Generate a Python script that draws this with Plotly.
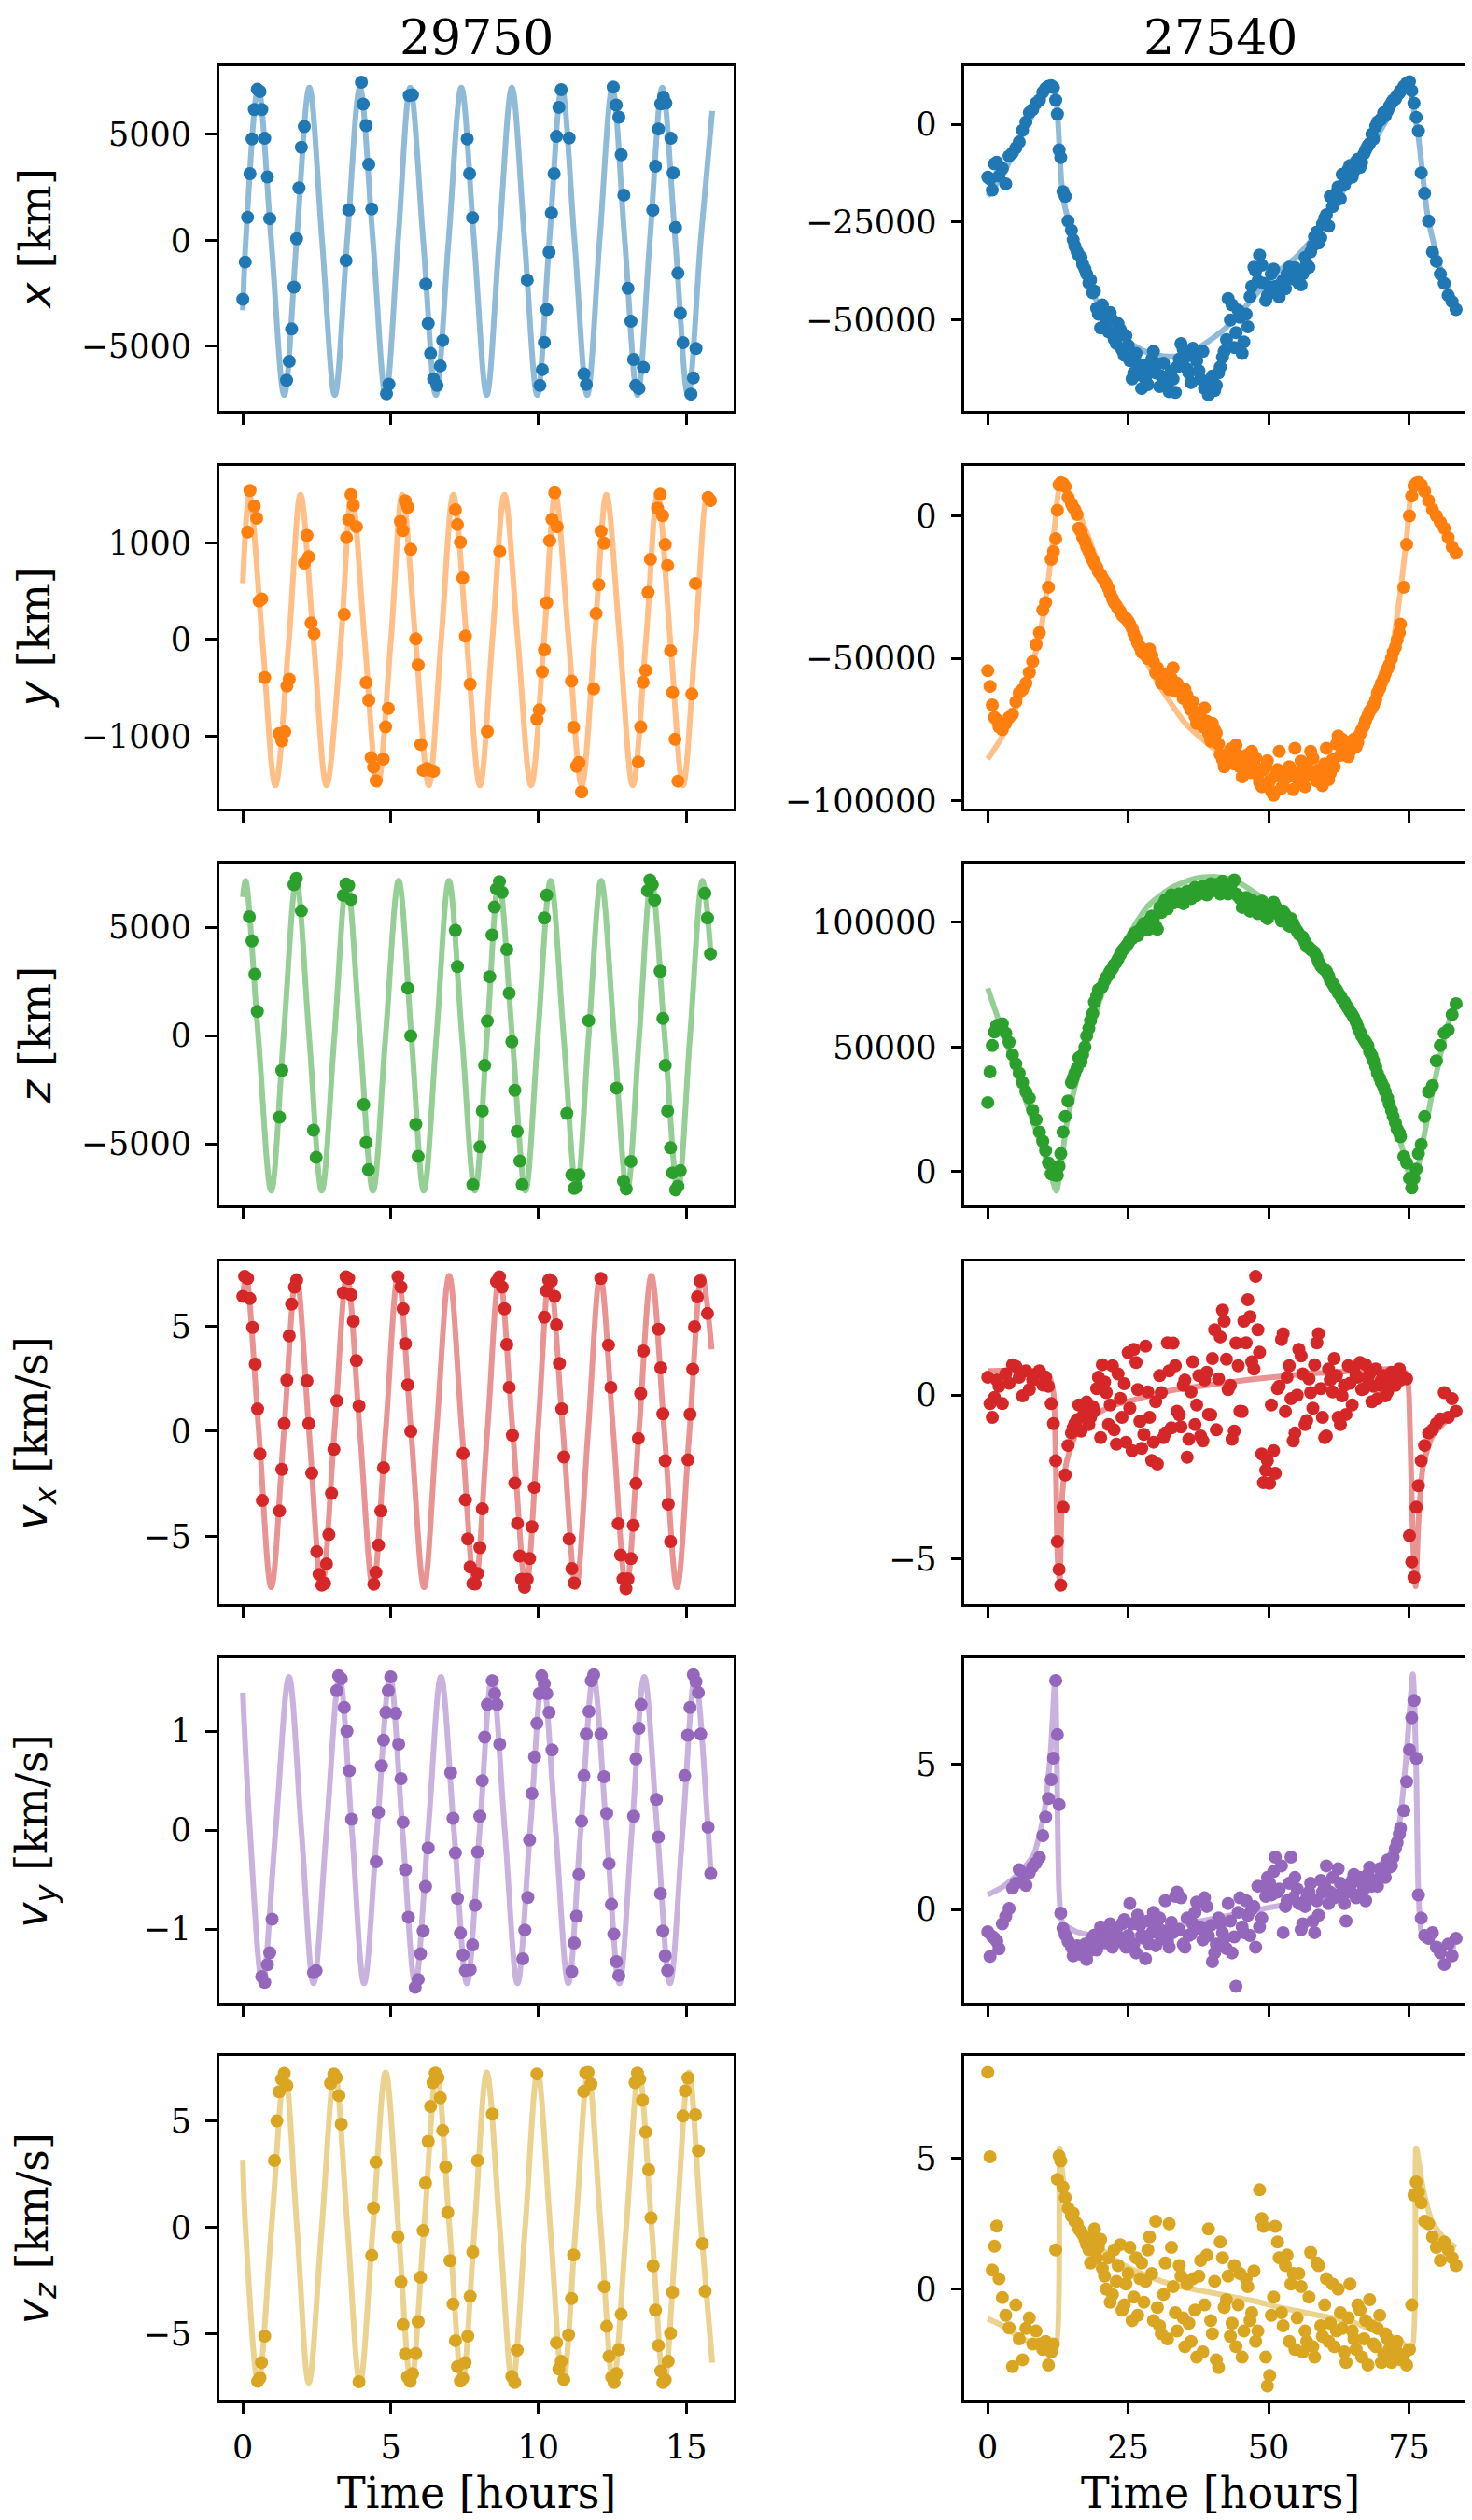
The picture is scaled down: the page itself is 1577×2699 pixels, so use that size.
import plotly.graph_objects as go
from plotly.subplots import make_subplots

# ---------------- satellite 29750 (left column) ----------------
t_x_29750 = [0.00, 0.08, 0.16, 0.24, 0.31, 0.39, 0.49, 0.58, 0.64, 0.74,
             0.83, 0.91, 1.48, 1.57, 1.65, 1.73, 1.82, 1.90, 1.98, 2.08,
             3.49, 3.58, 4.01, 4.07, 4.17, 4.26, 4.36, 4.86, 4.94, 5.63,
             5.74, 6.19, 6.27, 6.35, 6.45, 6.57, 6.68, 6.76, 7.59, 7.67,
             7.77, 9.62, 10.05, 10.13, 10.20, 10.28, 10.36, 10.44, 10.53, 10.61,
             10.69, 10.77, 11.04, 11.54, 11.62, 12.53, 12.63, 12.72, 12.80, 12.89,
             13.03, 13.13, 13.22, 13.29, 13.40, 13.55, 13.87, 13.96, 14.06, 14.14,
             14.23, 14.31, 14.48, 14.56, 14.64, 14.72, 14.80, 14.89, 15.16, 15.24,
             15.33]
x_29750 = [-2778, -1023, 1082, 3143, 4781, 6170, 7120, 7018, 6170, 4810,
           2983, 1023, -6594, -5702, -4181, -2208, 73, 2471, 4386, 5366,
           -950, 1433, 7456, 6418, 5409, 3582, 1477, -7237, -6784, 6828,
           6857, -2061, -3918, -5336, -6535, -6842, -5921, -4722, 4781, 3143,
           1067, -1871, -6842, -6097, -4810, -3260, -556, 1287, 3143, 4898,
           6272, 7106, 4825, -6301, -6798, 7222, 6374, 5804, 4035, 2135,
           -2266, -3816, -5614, -6842, -6988, -5994, 1418, 3494, 5249, 6433,
           6754, 6462, 4810, 3173, 599, -1550, -3436, -4825, -7252, -6491,
           -5102]

t_y_29750 = [0.16, 0.24, 0.39, 0.47, 0.55, 0.64, 0.74, 1.23, 1.32, 1.42,
             1.49, 1.57, 2.08, 2.17, 2.23, 2.31, 2.41, 3.43, 3.51, 3.58,
             3.66, 3.74, 3.84, 4.17, 4.26, 4.34, 4.42, 4.51, 4.75, 4.83,
             4.92, 5.33, 5.41, 5.49, 5.58, 5.68, 5.85, 5.93, 6.02, 6.10,
             6.23, 6.35, 6.45, 7.19, 7.26, 7.36, 7.44, 7.53, 7.69, 8.27,
             8.69, 9.95, 10.03, 10.13, 10.20, 10.28, 10.38, 10.46, 10.55, 10.63,
             11.12, 11.19, 11.29, 11.37, 11.46, 11.87, 11.95, 12.04, 12.12, 12.22,
             13.38, 13.46, 13.54, 13.63, 13.71, 13.79, 14.03, 14.12, 14.20, 14.29,
             14.37, 14.47, 14.54, 14.62, 14.72, 15.19, 15.31, 15.74, 15.82]
y_29750 = [1112, 1542, 1381, 1256, 397, 420, -394, -974, -1048, -955,
           -481, -410, 792, 1077, 856, 170, 61, 260, 1054, 1240,
           1500, 1391, 1167, -445, -628, -1221, -1320, -1461, -1237, -904,
           -712, 1221, 1128, 1436, 1369, 933, 6, -263, -1086, -1353,
           -1336, -1353, -1362, 1343, 1189, 1006, 638, 35, -462, -952,
           910, -824, -728, -333, -106, 381, 1022, 1244, 1519, 1167,
           -429, -907, -1311, -1272, -1577, -510, 269, 567, 1119, 997,
           -1269, -904, -442, -320, 487, 830, 1359, 1503, 1282, 984,
           766, -115, -548, -1032, -1465, -564, 580, 1471, 1439]

t_z_29750 = [0.22, 0.31, 0.41, 0.49, 1.24, 1.32, 1.73, 1.81, 1.98, 2.39,
             2.48, 3.40, 3.49, 3.58, 3.66, 4.09, 4.17, 4.25, 5.58, 5.68,
             5.85, 5.93, 7.19, 7.26, 7.78, 8.02, 8.10, 8.18, 8.27, 8.35,
             8.43, 8.51, 8.58, 8.68, 8.77, 8.93, 9.01, 9.10, 9.20, 9.28,
             9.37, 9.45, 10.20, 10.28, 10.96, 11.13, 11.21, 11.29, 11.37, 11.70,
             12.64, 12.88, 12.97, 13.13, 13.69, 13.77, 13.85, 13.93, 14.12, 14.21,
             14.29, 14.37, 14.47, 14.54, 14.64, 14.72, 14.80, 15.63, 15.72, 15.82]
z_29750 = [5486, 4371, 2829, 1114, -3771, -1614, 6971, 7257, 5757, -4371,
           -5629, 6471, 7000, 6929, 6286, -3186, -4943, -6200, 2186, -14,
           -4100, -5586, 4857, 3186, -6886, -5143, -3486, -1371, 671, 2714,
           4643, 5929, 6771, 7114, 6614, 3971, 1957, -286, -2529, -4429,
           -5800, -6886, 5429, 6486, -3600, -6429, -7057, -6986, -6429, 686,
           -2429, -6729, -7086, -5814, 6686, 7186, 6971, 6257, 2971, 786,
           -1371, -3486, -5186, -6343, -7129, -6957, -6243, 6571, 5429, 3771]

t_vx_29750 = [0.00, 0.06, 0.16, 0.24, 0.33, 0.42, 0.50, 0.58, 0.66, 1.24,
              1.32, 1.40, 1.49, 1.57, 1.65, 1.75, 1.82, 2.17, 2.23, 2.33,
              2.50, 2.58, 2.67, 2.77, 2.83, 2.91, 3.00, 3.08, 3.18, 3.40,
              3.49, 3.58, 3.66, 3.74, 3.84, 3.93, 4.43, 4.50, 4.59, 4.67,
              4.76, 5.25, 5.35, 5.42, 5.50, 5.58, 5.68, 7.45, 7.53, 7.61,
              7.69, 7.78, 7.86, 7.94, 8.02, 8.10, 8.58, 8.68, 8.77, 8.85,
              8.93, 9.01, 9.12, 9.20, 9.29, 9.37, 9.43, 9.53, 9.62, 9.70,
              9.78, 9.86, 10.20, 10.27, 10.35, 10.44, 10.55, 10.61, 10.71, 10.79,
              10.86, 11.04, 11.13, 11.21, 12.11, 12.37, 12.45, 12.70, 12.78, 12.86,
              12.96, 13.03, 13.13, 13.21, 13.30, 13.38, 13.46, 13.55, 14.06, 14.14,
              14.21, 14.29, 14.39, 14.47, 15.06, 15.13, 15.22, 15.28, 15.38, 15.47,
              15.72]
vx_29750 = [6.42, 7.37, 7.27, 6.31, 4.94, 3.20, 1.06, -1.08, -3.29, -3.79,
            -1.81, 0.37, 2.43, 4.54, 6.05, 6.86, 7.18, 2.40, 0.37, -1.99,
            -5.72, -6.80, -7.32, -7.23, -6.30, -4.91, -2.95, -0.86, 1.45, 6.59,
            7.35, 7.27, 6.49, 5.24, 3.36, 1.21, -7.27, -6.71, -5.41, -3.79,
            -1.73, 7.35, 6.86, 5.83, 4.16, 2.21, 0.00, -1.06, -3.26, -5.12,
            -6.45, -7.24, -7.26, -6.76, -5.53, -3.69, 7.12, 7.35, 6.86, 5.83,
            4.13, 2.09, -0.19, -2.46, -4.38, -5.93, -7.04, -7.42, -7.04, -6.05,
            -4.54, -2.67, 5.43, 6.68, 7.18, 7.15, 6.42, 5.06, 3.23, 1.06,
            -1.22, -5.12, -6.53, -7.21, 7.27, 4.10, 2.09, -4.40, -5.88, -7.02,
            -7.48, -7.02, -6.05, -4.47, -2.48, -0.34, 1.80, 3.82, 4.85, 3.02,
            0.83, -1.40, -3.47, -5.24, -1.36, 0.81, 2.95, 4.97, 6.39, 7.15,
            5.60]

t_vy_29750 = [0.64, 0.74, 0.83, 0.91, 0.99, 2.39, 2.48, 3.18, 3.24, 3.33,
              3.43, 3.52, 3.60, 3.68, 4.51, 4.59, 4.69, 4.76, 4.84, 4.92,
              5.00, 5.17, 5.27, 5.35, 5.42, 5.50, 5.60, 5.83, 5.93, 6.01,
              6.10, 6.18, 6.27, 7.03, 7.11, 7.19, 7.26, 7.36, 7.45, 7.53,
              7.69, 7.77, 7.86, 7.94, 8.02, 8.10, 8.18, 8.27, 8.44, 8.52,
              8.60, 8.69, 9.47, 9.54, 9.64, 9.70, 9.78, 9.87, 9.95, 10.03,
              10.11, 10.20, 10.28, 10.36, 10.46, 11.13, 11.21, 11.29, 11.37, 11.46,
              11.54, 11.62, 11.71, 11.79, 11.87, 12.11, 12.22, 12.31, 12.39, 12.47,
              12.55, 12.64, 12.72, 13.22, 13.30, 13.40, 13.47, 13.99, 14.06, 14.13,
              14.21, 14.29, 14.37, 14.95, 15.05, 15.13, 15.24, 15.33, 15.41, 15.49,
              15.74, 15.83]
vy_29750 = [-1.48, -1.54, -1.36, -1.24, -0.90, -1.44, -1.42, 1.41, 1.56, 1.53,
            1.24, 1.00, 0.60, 0.11, -0.32, 0.18, 0.65, 0.91, 1.19, 1.41,
            1.55, 1.18, 0.87, 0.52, 0.08, -0.40, -0.88, -1.59, -1.51, -1.25,
            -1.02, -0.57, -0.18, 0.58, 0.12, -0.23, -0.69, -1.04, -1.26, -1.42,
            -1.41, -1.16, -0.76, -0.22, 0.14, 0.50, 0.94, 1.27, 1.51, 1.38,
            1.27, 0.87, -1.30, -1.01, -0.68, -0.10, 0.37, 0.74, 1.08, 1.38,
            1.56, 1.48, 1.38, 1.19, 0.81, -1.43, -1.14, -0.87, -0.45, 0.09,
            0.55, 0.97, 1.20, 1.51, 1.57, 0.97, 0.54, 0.17, -0.34, -0.75,
            -1.05, -1.33, -1.47, 0.14, 0.72, 1.03, 1.27, 0.31, -0.07, -0.64,
            -1.02, -1.27, -1.42, 0.55, 0.96, 1.24, 1.57, 1.50, 1.39, 0.97,
            0.03, -0.44]

t_vz_29750 = [0.50, 0.58, 0.63, 0.74, 1.07, 1.15, 1.23, 1.31, 1.40, 1.49,
              2.97, 3.08, 3.16, 3.25, 3.33, 3.93, 4.36, 4.42, 4.50, 5.25,
              5.35, 5.42, 5.50, 5.57, 5.66, 5.74, 5.85, 5.93, 6.01, 6.10,
              6.18, 6.27, 6.35, 6.43, 6.51, 6.60, 6.68, 6.76, 6.86, 6.93,
              7.01, 7.11, 7.19, 7.26, 7.36, 7.44, 7.52, 7.61, 7.69, 7.78,
              7.94, 8.44, 9.10, 9.20, 9.28, 9.95, 10.61, 10.69, 10.77, 10.86,
              11.02, 11.12, 11.19, 11.53, 11.60, 11.68, 11.78, 12.23, 12.31, 12.39,
              12.48, 12.56, 12.64, 12.72, 12.80, 13.27, 13.35, 13.43, 13.52, 13.63,
              13.73, 13.81, 13.88, 13.96, 14.06, 14.14, 14.21, 14.29, 14.39, 14.47,
              14.54, 14.89, 14.97, 15.06, 15.31, 15.41, 15.55, 15.64]
vz_29750 = [-7.22, -7.06, -6.34, -5.10, 3.14, 5.00, 6.37, 6.96, 7.24, 6.66,
            6.77, 7.21, 7.03, 6.19, 4.85, -7.24, -1.31, 0.92, 3.07, -0.44,
            -2.56, -4.56, -5.94, -7.01, -7.22, -6.86, -5.92, -4.42, -2.34, -0.15,
            2.09, 4.04, 5.68, 6.80, 7.25, 7.03, 6.09, 4.55, 2.85, 0.70,
            -1.56, -3.59, -5.31, -6.53, -7.21, -7.08, -6.34, -5.10, -3.23, -1.15,
            3.14, 5.32, -6.99, -7.28, -5.76, 7.21, -5.41, -6.64, -6.28, -7.14,
            -5.04, -3.33, -1.29, 6.38, 7.25, 7.28, 6.73, -2.78, -4.64, -6.05,
            -7.03, -7.28, -6.86, -5.73, -4.07, 6.80, 7.25, 6.96, 5.97, 4.48,
            2.70, 0.45, -1.80, -3.88, -5.54, -6.74, -7.28, -7.15, -6.28, -4.97,
            -3.04, 5.23, 6.41, 7.02, 5.29, 3.60, -0.76, -2.99]

# fitted orbit curves (extrema and zero crossings)
tf_x_29750 = [0, 0.10, 0.52, 0.96, 1.40, 1.82, 2.25, 2.68, 3.11, 3.53, 3.96, 4.40, 4.83,
              5.25, 5.66, 6.10, 6.53, 6.96, 7.39, 7.82, 8.25, 8.67, 9.10, 9.53, 9.96,
              10.37, 10.79, 11.22, 11.65, 12.07, 12.50, 12.92, 13.35, 13.77, 14.19,
              14.63, 15.06, 15.49, 15.88]
xf_29750 = [-3300, 0, 7200, 0, -7300, 0, 7200, 0, -7300, 0, 7200, 0, -7300,
            0, 7200, 0, -7300, 0, 7200, 0, -7300, 0, 7200, 0, -7300,
            0, 7200, 0, -7300, 0, 7200, 0, -7300, 0, 7200,
            0, -7300, 0, 6100]
tf_y_29750 = [0, 0.22, 0.66, 1.10, 1.56, 1.95, 2.39, 2.83, 3.32, 3.68, 4.12, 4.56, 5.01,
              5.39, 5.84, 6.29, 6.71, 7.12, 7.57, 8.02, 8.44, 8.85, 9.30, 9.75, 10.19,
              10.57, 11.02, 11.46, 11.90, 12.30, 12.75, 13.19, 13.64, 14.03, 14.46,
              14.89, 15.31, 15.72, 15.82]
yf_29750 = [583, 1500, 0, -1510, 0, 1500, 0, -1510, 0, 1500, 0, -1510, 0,
            1500, 0, -1510, 0, 1500, 0, -1510, 0, 1500, 0, -1510, 0,
            1500, 0, -1510, 0, 1500, 0, -1510, 0, 1500, 0,
            -1510, 0, 1500, 1440]
tf_z_29750 = [0, 0.09, 0.52, 0.96, 1.38, 1.81, 2.24, 2.67, 3.10, 3.52, 3.96, 4.40, 4.83,
              5.27, 5.70, 6.12, 6.55, 6.97, 7.41, 7.85, 8.26, 8.66, 9.11, 9.56, 9.98,
              10.41, 10.85, 11.29, 11.70, 12.12, 12.56, 13.00, 13.41, 13.82, 14.27,
              14.72, 15.13, 15.55, 15.83]
zf_29750 = [6400, 7150, 0, -7170, 0, 7150, 0, -7170, 0, 7150, 0, -7170, 0,
            7150, 0, -7170, 0, 7150, 0, -7170, 0, 7150, 0, -7170, 0,
            7150, 0, -7170, 0, 7150, 0, -7170, 0, 7150, 0,
            -7170, 0, 7150, 3760]
tf_vx_29750 = [0, 0.11, 0.54, 0.96, 1.39, 1.81, 2.24, 2.67, 3.10, 3.52, 3.96, 4.40, 4.83,
               5.25, 5.69, 6.13, 6.55, 6.98, 7.41, 7.85, 8.27, 8.68, 9.13, 9.58, 9.98,
               10.38, 10.83, 11.27, 11.68, 12.09, 12.53, 12.97, 13.40, 13.82, 14.26,
               14.69, 15.11, 15.53, 15.86]
vxf_29750 = [6.4, 7.4, 0, -7.42, 0, 7.4, 0, -7.42, 0, 7.4, 0, -7.42, 0,
             7.4, 0, -7.42, 0, 7.4, 0, -7.42, 0, 7.4, 0, -7.42, 0,
             7.4, 0, -7.42, 0, 7.4, 0, -7.42, 0, 7.4, 0,
             -7.42, 0, 7.4, 3.9]
tf_vy_29750 = [0, 0.24, 0.66, 1.11, 1.56, 1.98, 2.39, 2.83, 3.27, 3.69, 4.10, 4.54, 4.98,
               5.40, 5.83, 6.27, 6.70, 7.14, 7.58, 8.01, 8.43, 8.86, 9.29, 9.72, 10.14,
               10.58, 11.01, 11.43, 11.86, 12.30, 12.74, 13.16, 13.58, 14.02, 14.45,
               14.88, 15.30, 15.74, 15.83]
vyf_29750 = [1.39, 0, -1.55, 0, 1.55, 0, -1.55, 0, 1.55, 0, -1.55, 0, 1.55,
             0, -1.55, 0, 1.55, 0, -1.55, 0, 1.55, 0, -1.55, 0, 1.55,
             0, -1.55, 0, 1.55, 0, -1.55, 0, 1.55, 0, -1.55,
             0, 1.55, 0, -0.45]
tf_vz_29750 = [0, 0.09, 0.52, 0.97, 1.42, 1.83, 2.23, 2.67, 3.11, 3.54, 3.96, 4.40, 4.83,
               5.26, 5.69, 6.13, 6.56, 6.99, 7.42, 7.84, 8.25, 8.69, 9.12, 9.55, 9.97,
               10.40, 10.83, 11.26, 11.68, 12.11, 12.53, 12.97, 13.40, 13.83, 14.25,
               14.67, 15.09, 15.50, 15.88]
vzf_29750 = [3.18, 0, -7.3, 0, 7.28, 0, -7.3, 0, 7.28, 0, -7.3, 0, 7.28,
             0, -7.3, 0, 7.28, 0, -7.3, 0, 7.28, 0, -7.3, 0, 7.28,
             0, -7.3, 0, 7.28, 0, -7.3, 0, 7.28, 0, -7.3,
             0, 7.28, 0, -6.35]

# ---------------- satellite 27540 (right column) ----------------
t_27540 = [0.0, 0.4, 0.8, 1.2, 1.6, 2.0, 2.6, 3.2, 3.8, 4.4,
           5.0, 5.6, 6.2, 6.8, 7.4, 8.0, 8.6, 9.2, 9.8, 10.3,
           10.8, 11.3, 11.7, 12.1, 12.4, 12.7, 13.0, 13.4, 13.8, 14.3,
           14.9, 15.5, 16.2, 16.9, 17.6, 18.3, 19.0, 19.7, 20.4, 21.1,
           21.8, 22.5, 23.2, 23.9, 24.6, 25.3, 26.0, 26.7, 27.4, 28.1,
           28.8, 29.5, 30.2, 30.9, 31.6, 32.3, 33.0, 33.7, 34.4, 35.1,
           35.8, 36.5, 37.2, 37.9, 38.6, 39.3, 40.0, 40.7, 41.4, 42.1,
           42.8, 43.5, 44.2, 44.9, 45.6, 46.3, 47.0, 47.7, 48.4, 49.1,
           49.8, 50.5, 51.2, 51.9, 52.6, 53.3, 54.0, 54.7, 55.4, 56.1,
           56.8, 57.5, 58.2, 58.9, 59.6, 60.3, 61.0, 61.7, 62.4, 63.1,
           63.8, 64.5, 65.2, 65.9, 66.6, 67.3, 68.0, 68.7, 69.4, 70.1,
           70.8, 71.5, 72.2, 72.9, 73.5, 74.1, 74.6, 75.1, 75.5, 75.9,
           76.3, 76.7, 77.2, 77.8, 78.5, 79.2, 79.9, 80.6, 81.3, 82.0,
           82.7, 83.4]
x_27540 = [-13500, -14000, -16800, -10100, -9700, -13200, -11300, -15200, -8100, -7300,
           -6000, -4500, -1500, 600, 3000, 3800, 5400, 6200, 8200, 9200,
           9700, 9900, 9400, 6200, 2600, -6500, -8500, -17200, -18400, -24700,
           -27100, -31100, -33400, -35800, -38200, -39800, -42600, -48500, -46100, -50100,
           -48100, -54800, -50900, -57600, -54000, -60400, -63500, -61200, -67500, -65100,
           -62800, -58000, -61200, -64300, -65900, -68300, -65100, -62000, -56000, -59600,
           -63500, -57200, -60400, -65100, -67500, -69100, -64300, -66700, -62000, -58000,
           -44500, -46100, -53200, -49300, -55600, -51700, -41400, -37400, -33400, -40600,
           -43700, -38200, -41400, -44100, -39800, -38200, -38200, -36600, -40600, -38200,
           -35800, -32600, -28700, -30300, -25500, -23100, -18400, -20000, -16000, -12800,
           -14400, -10500, -12000, -8900, -9700, -6500, -4900, -3700, 600, 1400,
           2200, 4600, 6200, 7400, 8600, 9700, 10500, 10900, 8600, 5400,
           1800, -1700, -12400, -17600, -24700, -32600, -35000, -38200, -40600, -43700,
           -45300, -47300]
y_27540 = [-54300, -59800, -66300, -70700, -71500, -74000, -75000, -72800, -70700, -69600,
           -65200, -62000, -60900, -58700, -54900, -51100, -45100, -41000, -33000, -30400,
           -25000, -15200, -12500, -8000, 2000, 10900, 11700, 11400, 10300, 6500,
           4300, 2200, -4300, -7600, -10900, -14100, -16800, -19600, -21700, -23900,
           -27200, -30400, -32600, -34800, -35900, -38000, -41300, -44600, -47800, -48900,
           -46700, -51100, -53300, -58700, -55400, -60900, -53300, -58700, -62000, -60900,
           -66300, -65200, -72800, -70700, -67400, -76100, -72800, -76100, -83700, -88000,
           -83700, -81500, -80400, -88000, -89100, -83700, -82600, -84800, -93500, -89100,
           -85900, -96700, -91300, -82600, -94600, -90200, -91300, -81500, -93500, -92400,
           -88000, -82600, -90200, -89100, -94600, -81500, -90200, -88000, -77200, -78300,
           -79400, -82600, -78300, -79400, -75000, -71700, -68500, -66300, -62000, -58700,
           -55400, -52200, -47800, -43500, -38000, -25000, -10000, 0, 7000, 10500,
           11500, 11800, 10900, 8700, 5400, 2200, 0, -2200, -4300, -7600,
           -10900, -13000]
z_27540 = [27700, 40000, 50600, 56000, 58700, 58700, 59300, 55600, 51900, 46900,
           43200, 39500, 35700, 32000, 29500, 24600, 20800, 15900, 12200, 8400,
           3500, -900, -1200, -1500, -1500, 2200, 7200, 15900, 22100, 28300,
           35700, 39500, 45700, 46900, 54400, 60600, 68000, 73000, 74200, 77900,
           80400, 82900, 85400, 88500, 90300, 92800, 95300, 94700, 97800, 99000,
           100900, 101500, 97200, 104000, 109000, 109600, 107700, 110200, 109000, 111400,
           110200, 112700, 110800, 113300, 112700, 113900, 112700, 115200, 111400, 113300,
           111400, 115800, 111400, 109600, 108300, 105900, 109000, 106500, 107700, 104000,
           101500, 105200, 106500, 102800, 104600, 100300, 101500, 97800, 95300, 94100,
           90300, 89100, 87900, 84100, 81700, 80400, 76700, 74200, 71700, 69200,
           66800, 64300, 61800, 58100, 54400, 51900, 48100, 44400, 39500, 35700,
           32000, 27100, 22100, 17100, 14000, 6000, 3500, -2700, -6500, -2700,
           1000, 7200, 10900, 22100, 32000, 34500, 44400, 50600, 55600, 56800,
           63000, 67400]
vx_27540 = [0.55, -0.26, -0.68, -0.07, 0.46, 0.27, -0.26, 0.65, 0.36, 0.93,
            0.88, 0.55, -0.02, 0.74, 0.17, 0.46, 0.65, 0.74, 0.31, 0.55,
            0.27, -0.26, -0.87, -2.01, -4.48, -5.33, -5.81, -3.43, -2.44, -1.54,
            -1.16, -0.87, -0.30, -0.64, -0.21, -0.68, -0.49, 0.55, 0.93, 0.08,
            -0.30, -1.06, 0.65, -0.68, -1.44, -0.40, 1.40, 0.17, -1.63, 1.50,
            -0.68, -1.44, -2.11, 0.08, -1.16, 0.74, 1.59, -0.49, -0.97, 0.46,
            -1.35, 1.02, -0.30, -1.25, 0.46, -0.59, 1.12, -1.06, 1.78, 2.26,
            0.17, -1.35, 1.59, -0.49, 2.26, 2.92, 1.02, 3.63, 1.31, -2.68,
            -2.01, -0.30, -2.39, 0.27, 1.88, 0.55, -0.11, -1.16, 1.40, 0.65,
            -0.78, 0.08, 0.93, 1.88, -0.68, -1.25, 0.46, 1.12, -0.68, -0.02,
            -0.59, 0.36, 0.83, 0.55, 0.17, 0.93, 0.65, 0.27, -0.11, 0.46,
            -0.02, 0.27, 0.55, 0.69, 0.46, 0.55, 0.50, -4.30, -5.10, -5.57,
            -3.43, -2.77, -2.01, -1.54, -1.16, -1.06, -0.87, -0.73, 0.08, -0.68,
            -0.11, -0.49]
vy_27540 = [-0.77, -1.62, -0.93, -1.00, -1.10, -1.36, -0.50, -0.24, 0.03, 0.73,
            0.90, 1.37, 1.00, 0.83, 1.26, 1.47, 1.60, 1.79, 2.54, 3.18,
            3.82, 4.47, 5.21, 7.88, 6.02, 3.61, -0.13, -0.66, -0.88, -1.10,
            -1.30, -1.41, -1.35, -1.50, -1.73, -1.10, -0.88, -1.20, -0.70, -1.00,
            -0.50, -1.00, -0.95, -0.50, -1.30, 0.20, -1.20, -0.20, -0.90, -1.70,
            -1.20, -0.10, -0.60, -1.00, 0.30, -1.30, -0.80, 0.60, 0.40, -1.30,
            -0.90, -0.50, 0.25, -0.60, 0.40, -0.90, -1.80, -1.20, -0.50, -1.00,
            0.20, -1.50, -2.65, 0.40, -0.80, -0.20, 0.00, -1.30, -0.60, 0.80,
            1.10, 0.50, 1.80, 0.70, -0.80, 0.30, 1.80, 1.10, 0.20, -0.50,
            0.40, 0.90, -0.80, -0.20, 0.60, 1.50, 0.60, 0.40, 1.40, 0.50,
            -0.40, 0.80, 1.20, 0.50, 0.90, 0.30, 1.45, 0.90, 0.80, 1.30,
            1.10, 1.45, 1.80, 2.30, 2.80, 3.40, 4.40, 5.50, 6.60, 7.20,
            5.20, 0.50, -0.30, -0.90, -1.00, -0.80, -1.30, -1.50, -1.90, -1.20,
            -1.60, -1.00]
vz_27540 = [8.29, 5.06, 0.73, 1.64, 2.41, 0.40, -0.32, -1.00, -1.48, -2.96,
            -0.60, -1.90, -2.70, -1.50, -1.10, -2.10, -1.60, -2.10, -2.30, -2.00,
            -2.90, -2.40, -2.10, 1.50, 4.20, 5.10, 4.90, 3.90, 3.50, 3.10,
            2.80, 2.60, 2.30, 2.10, 1.70, 1.00, 2.30, 1.60, 0.80, 0.00,
            -0.50, 1.50, 0.90, -0.80, 0.20, 1.60, -0.30, -1.00, 1.00, 0.30,
            2.00, -1.20, -0.70, -1.70, 1.00, 2.50, 0.10, -1.60, 0.50, -2.20,
            -1.30, 0.40, -2.60, 1.10, -0.60, 2.30, -1.70, -2.70, 1.80, -0.70,
            0.50, -1.30, -2.20, 0.60, -1.60, 0.10, -0.90, -2.00, 3.80, 2.40,
            -3.70, -1.00, 2.40, 1.20, -1.40, 1.30, 0.20, -2.30, 0.60, -2.40,
            -2.00, 1.40, -2.60, 0.90, -1.80, 0.40, -1.30, -2.20, 0.00, -1.50,
            -2.80, 0.20, -1.90, -0.60, -2.60, -1.20, -0.40, -2.10, -1.50, -2.80,
            -1.70, -2.30, -2.60, -2.00, -2.70, -2.50, -2.90, -2.30, -0.60, 3.60,
            4.10, 3.70, 3.30, 2.60, 2.50, 2.00, 1.60, 1.10, 1.80, 1.50,
            1.20, 0.90]

# second batch of 27540 observations (the dense middle of the orbit)
t2_27540 = [15.2, 15.9, 16.6, 17.3, 18.0, 18.7, 19.4, 20.1, 20.8, 21.5,
            22.2, 22.9, 23.6, 24.3, 25.0, 25.7, 26.4, 27.1, 27.8, 28.5,
            29.2, 29.9, 30.6, 31.3, 32.0, 32.7, 33.4, 34.1, 34.8, 35.5,
            36.2, 36.9, 37.6, 38.3, 39.0, 39.7, 40.4, 41.1, 41.8, 42.5,
            43.2, 43.9, 44.6, 45.3, 46.0, 46.7, 47.4, 48.1, 48.8, 49.5,
            50.2, 50.9, 51.6, 52.3, 53.0, 53.7, 54.4, 55.1, 55.8, 56.5,
            57.2, 57.9, 58.6, 59.3, 60.0, 60.7, 61.4, 62.1, 62.8, 63.5,
            64.2, 64.9, 65.6, 66.3, 67.0, 67.7, 68.4, 69.1, 69.8, 70.5,
            71.2, 71.9, 72.6, 73.3]
x2_27540 = [-29500, -32500, -34000, -37000, -40500, -43000, -47000, -52000, -49000, -53000,
            -50000, -56000, -52500, -59000, -56500, -65000, -58500, -64000, -61500, -66500,
            -60000, -63500, -67000, -61000, -66500, -63000, -68500, -60000, -57500, -62500,
            -66000, -59000, -63000, -58000, -66000, -67000, -68000, -63500, -59500, -55000,
            -50000, -57000, -47500, -58500, -48500, -44000, -36500, -40000, -36000, -45000,
            -41500, -37000, -43000, -40500, -42000, -36500, -39500, -37500, -41000, -34000,
            -36500, -31000, -27500, -29000, -24000, -26000, -21000, -17500, -19000, -15500,
            -11500, -13500, -9500, -11000, -7500, -5500, -2500, -500, 1000, 3000,
            3500, 5500, 6500, 8000]
y2_27540 = [3000, 500, -5500, -9000, -12500, -15500, -18000, -20500, -23000, -25500,
            -29000, -31500, -33500, -35500, -37000, -39500, -43000, -46000, -47000, -50000,
            -49000, -55000, -56000, -57500, -59500, -57000, -61500, -60000, -64000, -63000,
            -68000, -70500, -69000, -74000, -72000, -79000, -75000, -80000, -85500, -86000,
            -82000, -87000, -84000, -91500, -86000, -90000, -87500, -91000, -95000, -88000,
            -93000, -98000, -89000, -95500, -92000, -88000, -96000, -90000, -86000, -95000,
            -91000, -85000, -93000, -91500, -87000, -92500, -85500, -80000, -84000, -80500,
            -84500, -79000, -81000, -76500, -73500, -70000, -67500, -64500, -60500, -57000,
            -53500, -50000, -46000, -41000]
z2_27540 = [37500, 41500, 44000, 50000, 57500, 63500, 70500, 73500, 76500, 79000,
            81500, 84000, 87000, 89500, 91500, 93500, 96000, 96500, 99500, 97000,
            102500, 98500, 106000, 107500, 105500, 111000, 108500, 111500, 107500, 112500,
            109500, 114000, 111500, 114500, 111000, 115500, 113500, 114000, 116500, 112000,
            113500, 117000, 110500, 106000, 110000, 104500, 107500, 103500, 108500, 102500,
            103500, 108000, 104000, 100500, 103000, 98500, 99500, 96500, 94500, 92000,
            90000, 88500, 86000, 82500, 81000, 78500, 75500, 73000, 70500, 68000,
            65500, 63000, 60000, 56000, 53000, 50500, 46500, 42000, 37500, 34000,
            29500, 24500, 19500, 15500]
vx2_27540 = [-1.0, -0.75, -1.1, -0.45, -0.9, -0.35, 0.2, -1.3, 0.4, -0.9,
             0.9, -1.5, -0.1, 0.35, 1.3, -1.7, 1.0, -0.8, -1.2, 0.1,
             -2.0, -0.2, 0.6, -1.3, 1.6, -1.0, 0.9, -0.6, 0.3, -1.9,
             0.1, -0.9, 0.6, -1.4, 0.7, -0.6, 2.0, 0.5, 2.6, 1.1,
             0.3, -1.1, 0.9, -0.5, 1.6, 2.4, 0.8, 2.0, -1.8, -2.3,
             -2.7, -1.7, 0.2, 1.7, -0.5, 0.9, -1.4, 0.0, 1.2, -0.9,
             0.5, -0.4, 1.6, 0.2, -1.3, 0.8, 0.1, 0.6, -0.9, 0.3,
             0.9, -0.3, 0.6, 1.0, 0.2, 0.5, -0.2, 0.8, 0.3, 0.6,
             0.1, 0.7, 0.3, 0.8]
vy2_27540 = [-1.6, -1.25, -1.55, -1.2, -1.45, -0.95, -1.4, -0.6, -1.15, -0.8,
             -1.3, -0.7, -1.1, -0.35, -0.9, -0.5, -1.5, -0.55, -1.0, -0.4,
             -0.8, -1.25, -0.3, -0.75, -1.1, -0.45, 0.45, -0.7, -1.2, -0.3,
             -0.85, -0.1, -0.65, -1.05, 0.1, -0.55, -1.5, -0.3, -0.8, -1.35,
             -0.4, -0.95, -0.1, -0.6, 0.3, -0.9, 0.1, 0.8, -0.3, 0.45,
             0.9, 1.3, 0.6, 1.5, 0.1, 0.9, 0.4, 0.7, -0.7, 0.1,
             0.6, -0.4, 0.3, 1.0, 0.8, 0.2, 1.1, 0.5, 0.9, 0.2,
             0.6, 1.0, 0.4, 1.1, 0.7, 1.2, 0.8, 1.0, 1.4, 1.2,
             1.7, 1.5, 2.1, 2.6]
vz2_27540 = [2.9, 2.5, 2.2, 1.9, 1.5, 2.0, 1.2, 1.9, 0.5, 1.2,
             -0.2, 0.3, 1.7, -0.6, 0.6, -1.2, 1.2, 0.4, -0.5, 1.5,
             0.6, 2.6, -1.4, -0.2, -1.9, 1.6, -0.9, 0.9, -1.1, 0.2,
             -2.0, -0.8, 0.5, -2.4, 1.3, -1.2, 0.3, -3.0, 1.2, -0.4,
             -1.8, 0.9, -0.6, -2.6, 0.4, -1.2, 0.7, -1.6, 2.7, -2.6,
             -3.3, -0.3, 1.8, -0.9, 0.9, -2.0, 0.6, -1.1, 0.1, -1.6,
             -0.3, -2.2, 1.0, -1.4, -0.6, -2.0, 0.2, -1.6, -0.9, -2.4,
             -1.1, -1.6, -2.3, -0.8, -1.9, -2.9, -1.4, -2.2, -1.0, -2.5,
             -1.9, -2.8, -2.2, -2.5]

# fitted orbit curves for 27540
tf_x_27540 = [0, 3, 6, 9, 11.3, 11.8, 12.4, 13.3, 14.8, 17.5, 20.9, 25.1, 29.3, 33.6, 37.8,
              42.0, 46.2, 50.5, 54.7, 58.1, 62.3, 66.5, 70.8, 74.1, 75.0, 75.7, 76.7, 78.4,
              80.9, 83.4]
xf_27540 = [-18400, -12000, -3000, 5000, 9800, 9300, 3000, -17600, -27100, -39000, -49300,
            -55600, -58800, -59200, -56800, -52500, -46100, -39000, -34200, -28700, -19200,
            -9700, 600, 9400, 11300, 5400, -3300, -23900, -38200, -46100]
tf_y_27540 = [0, 2.3, 5.7, 9.0, 10.7, 12.0, 12.8, 13.3, 15.8, 19.2, 22.6, 26.8, 31.0, 35.2,
              39.5, 43.7, 47.9, 52.2, 56.4, 60.6, 64.8, 69.1, 71.6, 73.3, 74.6, 75.4, 76.4,
              78.4, 80.9, 83.4]
yf_27540 = [-85300, -78300, -64100, -44600, -23900, -2200, 10900, 11400, 3300, -14100,
            -29300, -45700, -60900, -72800, -80400, -85900, -88000, -89100, -88000, -85900,
            -79400, -64100, -51100, -29300, -7600, 7600, 11400, 6500, -4300, -15200]
tf_z_27540 = [0, 4, 8, 11, 12.2, 14.1, 16.7, 20.0, 24.3, 28.5, 32.7, 36.9, 40.3, 43.7, 47.9,
              52.2, 56.4, 60.6, 64.8, 69.1, 71.6, 74.1, 75.8, 77.1, 79.2, 81.7, 83.4]
zf_27540 = [73600, 47000, 20300, 1000, -7700, 19600, 44400, 69200, 91600, 106500, 113900,
            117600, 118300, 117000, 111400, 104000, 91600, 79200, 61800, 41900, 25800, 7200,
            -6500, 7200, 32000, 56800, 69200]
tf_vx_27540 = [0, 2.3, 10.7, 11.7, 12.1, 12.4, 12.8, 13.3, 14.1, 15.8, 19.2, 22.6, 26.8,
               31.0, 35.2, 39.5, 43.7, 47.9, 52.2, 56.4, 60.6, 64.8, 69.1, 73.3, 74.6, 75.2,
               75.7, 76.2, 76.7, 77.5, 79.2, 81.7, 83.4]
vxf_27540 = [0.74, 0.75, 0.65, 0.08, -2.0, -4.86, -5.8, -2.96, -2.0, -1.16, -0.59, -0.30,
             -0.11, 0.08, 0.22, 0.31, 0.41, 0.50, 0.57, 0.65, 0.69, 0.74, 0.79, 0.79, 0.65,
             -1.06, -4.38, -5.85, -3.91, -2.2, -1.25, -0.78, -0.59]
tf_vy_27540 = [0, 2.3, 5.7, 8.2, 9.9, 11.2, 12.0, 12.7, 13.3, 15.8, 22.6, 26.8, 31.0, 35.2,
               39.5, 43.7, 47.9, 52.2, 56.4, 60.6, 64.8, 68.2, 71.6, 73.3, 74.6, 75.7, 76.3,
               76.7, 77.5, 80.1, 83.4]
vyf_27540 = [0.51, 0.73, 1.26, 1.90, 3.18, 5.43, 8.0, 0.62, -0.45, -0.77, -0.98, -0.88,
             -0.66, -0.50, -0.34, -0.18, -0.02, 0.14, 0.30, 0.51, 0.83, 1.26, 1.90, 2.97,
             5.43, 8.1, 4.9, 0.62, -0.98, -1.2, -1.3]
tf_vz_27540 = [0, 2.3, 5.7, 10.7, 12.0, 12.8, 13.3, 14.1, 15.8, 19.2, 22.6, 26.8, 31.0,
               35.2, 39.5, 43.7, 47.9, 52.2, 56.4, 60.6, 64.8, 69.1, 73.3, 75.4, 76.3, 77.5,
               79.2, 81.7, 83.4]
vzf_27540 = [-1.13, -1.36, -1.84, -2.31, -2.4, 5.39, 4.44, 3.26, 2.43, 1.72, 1.13, 0.65,
             0.30, 0.06, -0.12, -0.30, -0.47, -0.71, -0.89, -1.07, -1.24, -1.60, -1.95,
             -2.31, 5.39, 3.85, 2.55, 1.84, 1.60]

# tick values for each panel
ticks_left = [[-5000, 0, 5000], [-1000, 0, 1000], [-5000, 0, 5000],
              [-5, 0, 5], [-1, 0, 1], [-5, 0, 5]]
ticks_right = [[-50000, -25000, 0], [-100000, -50000, 0], [0, 50000, 100000],
               [-5, 0], [0, 5], [0, 5]]
ylabels = ['<span style="font-family:DejaVu Sans"><i>x</i></span> [km]',
           '<span style="font-family:DejaVu Sans"><i>y</i></span> [km]',
           '<span style="font-family:DejaVu Sans"><i>z</i></span> [km]',
           '<span style="font-family:DejaVu Sans"><i>v</i><sub><i>x</i></sub></span> [km/s]',
           '<span style="font-family:DejaVu Sans"><i>v</i><sub><i>y</i></sub></span> [km/s]',
           '<span style="font-family:DejaVu Sans"><i>v</i><sub><i>z</i></sub></span> [km/s]']

colors = [(31, 119, 180), (255, 127, 14), (44, 160, 44),
          (214, 39, 40), (148, 103, 189), (218, 165, 32)]

left = [(t_x_29750, x_29750, tf_x_29750, xf_29750),
        (t_y_29750, y_29750, tf_y_29750, yf_29750),
        (t_z_29750, z_29750, tf_z_29750, zf_29750),
        (t_vx_29750, vx_29750, tf_vx_29750, vxf_29750),
        (t_vy_29750, vy_29750, tf_vy_29750, vyf_29750),
        (t_vz_29750, vz_29750, tf_vz_29750, vzf_29750)]
right = [(t_27540 + t2_27540, x_27540 + x2_27540, tf_x_27540, xf_27540),
         (t_27540 + t2_27540, y_27540 + y2_27540, tf_y_27540, yf_27540),
         (t_27540 + t2_27540, z_27540 + z2_27540, tf_z_27540, zf_27540),
         (t_27540 + t2_27540, vx_27540 + vx2_27540, tf_vx_27540, vxf_27540),
         (t_27540 + t2_27540, vy_27540 + vy2_27540, tf_vy_27540, vyf_27540),
         (t_27540 + t2_27540, vz_27540 + vz2_27540, tf_vz_27540, vzf_27540)]

# y ranges so the frames sit where matplotlib put them
yr_left = [[-8041, 8216], [-1750, 1798], [-7857, 7943],
           [-8.23, 8.08], [-1.749, 1.737], [-8.10, 8.04]]
yr_right = [[-73200, 14900], [-102700, 17600], [-13650, 123600],
            [-6.40, 4.09], [-3.23, 8.65], [-4.24, 8.91]]

W, H = 1577, 2699
rows_px = [(63, 434), (493, 862), (921, 1289), (1349, 1718), (1776, 2147), (2204, 2574)]
cols_px = [(227, 778), (1026, 1575)]

fig = make_subplots(rows=6, cols=2)

for i in range(6):
    r, g, b = colors[i]
    for c, data in enumerate([left[i], right[i]]):
        tp, vp, tf, vf = data
        smooth = 1.0 if c == 0 else 0.6
        fig.add_trace(go.Scatter(x=tf, y=vf, mode='lines',
                                 line=dict(color='rgba(%d,%d,%d,0.5)' % (r, g, b), width=6,
                                           shape='spline', smoothing=smooth),
                                 hoverinfo='skip'), row=i + 1, col=c + 1)
        fig.add_trace(go.Scatter(x=tp, y=vp, mode='markers',
                                 marker=dict(color='rgb(%d,%d,%d)' % (r, g, b), size=14,
                                             line=dict(width=0))),
                      row=i + 1, col=c + 1)

font = 'DejaVu Serif'
axis_style = dict(showline=True, mirror=True, linecolor='black', linewidth=2.5,
                  ticks='outside', ticklen=12, tickwidth=2.5, tickcolor='black',
                  showgrid=False, zeroline=False,
                  tickfont=dict(family=font, size=35, color='black'))

for i in range(6):
    top, bot = rows_px[i]
    for c in range(2):
        x0, x1 = cols_px[c]
        tv = ticks_left[i] if c == 0 else ticks_right[i]
        yr = yr_left[i] if c == 0 else yr_right[i]
        fig.update_yaxes(domain=[1 - bot / H, 1 - top / H], range=yr,
                         tickvals=tv, ticktext=[str(v).replace('-', '\u2212') for v in tv],
                         ticklabelstandoff=8, **axis_style, row=i + 1, col=c + 1)
        xt = [0, 5, 10, 15] if c == 0 else [0, 25, 50, 75]
        xr = [-0.80, 16.59] if c == 0 else [-4.14, 87.07]
        fig.update_xaxes(domain=[x0 / W, x1 / W], range=xr, tickvals=xt,
                         ticktext=[str(v) for v in xt], showticklabels=(i == 5),
                         ticklabelstandoff=6, **axis_style, row=i + 1, col=c + 1)

annotations = []
# column titles
for c, name in enumerate(['29750', '27540']):
    x0, x1 = cols_px[c]
    annotations.append(dict(text=name, x=(x0 + x1) / 2 / W, y=1.0, xref='paper',
                            yref='paper', showarrow=False, xanchor='center', yanchor='top',
                            font=dict(family=font, size=52, color='black')))
# y labels on the left column
for i in range(6):
    top, bot = rows_px[i]
    annotations.append(dict(text=ylabels[i], x=30 / W, y=1 - (top + bot) / 2 / H,
                            xref='paper', yref='paper', showarrow=False, textangle=-90,
                            xanchor='center', yanchor='middle',
                            font=dict(family=font, size=46, color='black')))
# x labels under the bottom row
for c in range(2):
    x0, x1 = cols_px[c]
    annotations.append(dict(text='Time [hours]', x=(x0 + x1) / 2 / W, y=1 - 2674 / H,
                            xref='paper', yref='paper', showarrow=False,
                            xanchor='center', yanchor='middle',
                            font=dict(family=font, size=46, color='black')))

fig.update_layout(width=W, height=H, margin=dict(l=0, r=0, t=0, b=0),
                  paper_bgcolor='white', plot_bgcolor='white', showlegend=False,
                  annotations=annotations, font=dict(family=font, color='black'))

fig.write_html("out.html")
